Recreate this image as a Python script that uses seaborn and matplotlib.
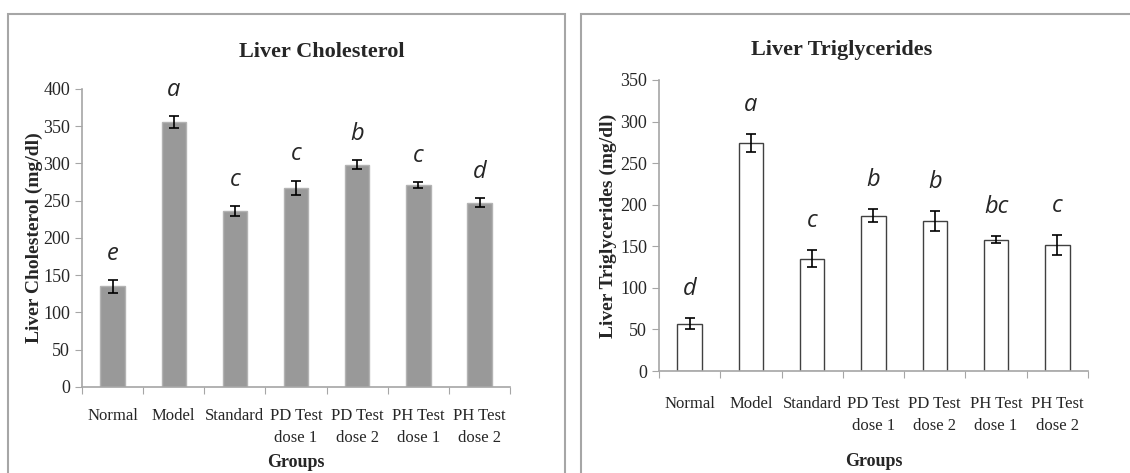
import numpy as np
import pandas as pd
import matplotlib
matplotlib.use("Agg")
import matplotlib.pyplot as plt
from matplotlib.patches import Rectangle
import seaborn as sns

# Data
groups = ['Normal', 'Model', 'Standard', 'PD Test\ndose 1', 'PD Test\ndose 2',
          'PH Test\ndose 1', 'PH Test\ndose 2']
chol_mean = [135, 356, 236, 267, 298, 271, 247]
chol_err = [9, 8, 7, 10, 6, 4, 6]
chol_letters = ['e', 'a', 'c', 'c', 'b', 'c', 'd']
tg_mean = [57, 274, 135, 187, 180, 158, 151]
tg_err = [7, 11, 10, 8, 12, 4, 12]
tg_letters = ['d', 'a', 'c', 'b', 'b', 'bc', 'c']

sns.set_style("white")
plt.rcParams['font.family'] = ['Liberation Serif', 'DejaVu Serif']

fig = plt.figure(figsize=(11.3, 4.73), dpi=100)

# panel borders
fig.patches.append(Rectangle((8 / 1130, -0.1), 557 / 1130, 1.1 - 14 / 473,
                             transform=fig.transFigure, fill=False,
                             edgecolor='#a6a6a6', linewidth=1.5))
fig.patches.append(Rectangle((581 / 1130, -0.1), 560 / 1130, 1.1 - 14 / 473,
                             transform=fig.transFigure, fill=False,
                             edgecolor='#a6a6a6', linewidth=1.5))


def draw_panel(ax, means, errs, letters, ylabel, ymax, fill, edge,
               xpad, glabelpad, ylabelpad):
    df = pd.DataFrame({'group': groups, 'value': means})
    sns.barplot(data=df, x='group', y='value', ax=ax, color=fill, width=0.4,
                edgecolor=edge, linewidth=1.0, saturation=1)
    ax.errorbar(range(len(groups)), means, yerr=errs, fmt='none',
                ecolor='black', elinewidth=1.2, capsize=3.5, capthick=1.2)
    for i, (m, e, t) in enumerate(zip(means, errs, letters)):
        ax.text(i, m + e + 35, t, ha='center', va='center', fontsize=17,
                style='italic', family=['Open Sans', 'DejaVu Sans'])
    ax.set_xlim(-0.5, len(groups) - 0.5)
    ax.set_ylim(0, ymax)
    ax.set_yticks(np.arange(0, ymax + 1, 50))
    ax.set_xticks(np.arange(-0.5, len(groups), 1.0), minor=False)
    ax.set_xticklabels([])
    ax.set_xticks(range(len(groups)), minor=True)
    ax.set_xticklabels(groups, minor=True, fontsize=12, linespacing=1.5,
                       verticalalignment='top')
    ax.tick_params(axis='x', which='minor', length=0, pad=xpad)
    ax.tick_params(axis='x', which='major', length=5, color='#a6a6a6',
                   direction='out', bottom=True)
    ax.tick_params(axis='y', length=5, color='#a6a6a6', direction='out',
                   left=True, labelsize=13)
    for s in ['top', 'right']:
        ax.spines[s].set_visible(False)
    for s in ['left', 'bottom']:
        ax.spines[s].set_color('#a6a6a6')
        ax.spines[s].set_linewidth(1.2)
    ax.set_xlabel('Groups', fontsize=13, fontweight='bold', labelpad=glabelpad)
    ax.set_ylabel(ylabel, fontsize=14, fontweight='bold', labelpad=ylabelpad)


ax1 = fig.add_axes([0.0726, 0.182, 0.3788, 0.630])
draw_panel(ax1, chol_mean, chol_err, chol_letters,
           'Liver Cholesterol (mg/dl)', 400, '#999999', '#b3b3b3',
           xpad=15, glabelpad=6, ylabelpad=0)
fig.text(322 / 1130, 1 - 52 / 473, 'Liver Cholesterol', ha='center',
         va='center', fontsize=16, fontweight='bold')

ax2 = fig.add_axes([0.5832, 0.2156, 0.3796, 0.6153])
draw_panel(ax2, tg_mean, tg_err, tg_letters,
           'Liver Triglycerides (mg/dl)', 350, 'white', '#404040',
           xpad=18, glabelpad=14, ylabelpad=2)
fig.text(842 / 1130, 1 - 50 / 473, 'Liver Triglycerides', ha='center',
         va='center', fontsize=16, fontweight='bold')

fig.savefig('out.png', dpi=100)
